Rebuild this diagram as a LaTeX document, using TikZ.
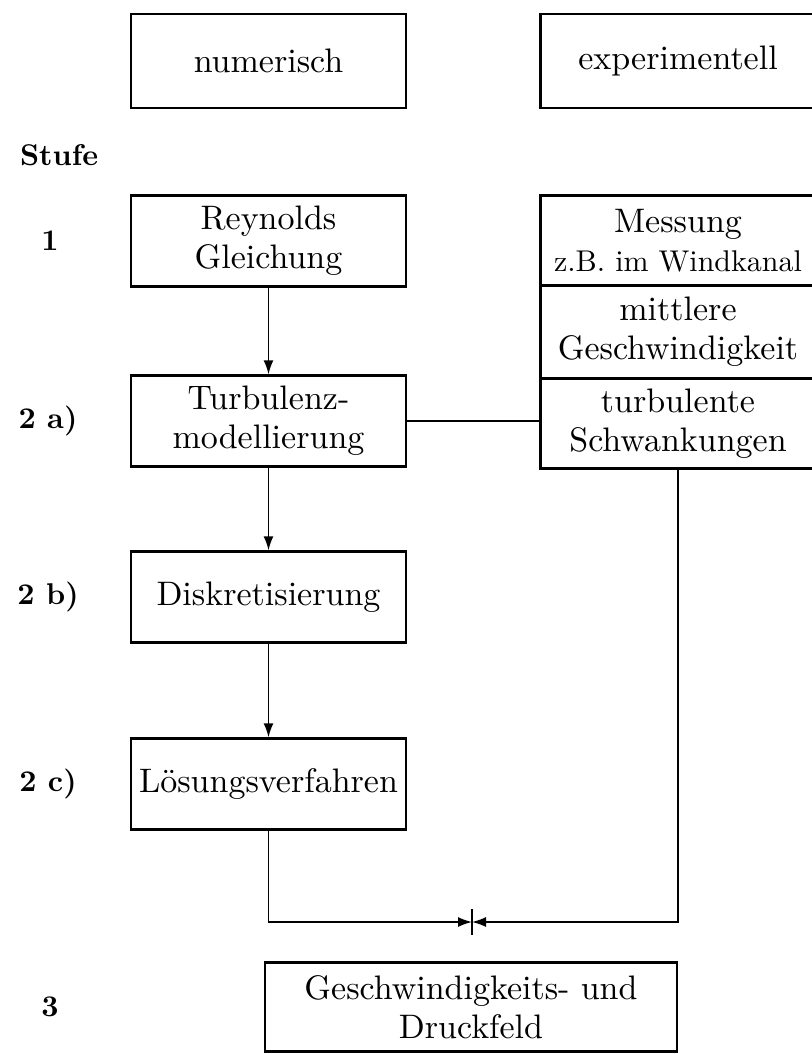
\documentclass[tikz,border=0pt]{standalone}
\usetikzlibrary{arrows.meta}
\font\kastenfont="[lmroman10-regular]:+tlig;" at 17pt
\font\kleinfont="[lmroman10-regular]:+tlig;" at 15pt
\font\stufenfont="[lmroman10-bold]:+tlig;" at 15pt
\newcommand{\kastenschrift}{\fontsize{17}{19.5}\selectfont\kastenfont}
\newcommand{\stufenschrift}{\fontsize{15}{18}\selectfont\stufenfont}
\tikzset{
	kasten/.style={draw, line width=1.2pt, minimum width=137.5pt, minimum height=45.5pt, inner sep=0pt, align=center, font=\kastenschrift},
	stufe/.style={font=\stufenschrift},
	linie/.style={line width=0.8pt},
	pfeil/.style={linie, -{Latex[length=7pt,width=5pt]}}
}

\begin{document}
\begin{tikzpicture}[x=0.5pt, y=-0.5pt]
		%%%%% START %%%%%
		\useasboundingbox (0,0) rectangle (812,1054);
		
		\node[kasten, minimum height=47pt] (num) at (268.5, 61) {numerisch};
		\node[kasten, minimum height=47pt] (exp) at (678, 61) {experimentell};
		
		\node[stufe, anchor=west] (stufe) at (13, 155) {Stufe};
		\node[stufe] (s1) at (50, 241) {1};
		\node[stufe] (s2a) at (48, 421) {2 a)};
		\node[stufe] (s2b) at (48, 597) {2 b)};
		\node[stufe] (s2c) at (48, 784) {2 c)};
		\node[stufe] (s3) at (50, 1007) {3};
		
		\node[kasten] (reyn) at (268.5, 241) {Reynolds\\Gleichung};
		\node[kasten] (turb) at (268.5, 421) {Turbulenz-\\modellierung};
		\node[kasten] (disk) at (268.5, 597) {Diskretisierung};
		\node[kasten] (loes) at (268.5, 784) {Lösungsverfahren};
		
		\node[kasten, minimum height=45pt] (mess) at (678, 240.5) {Messung\\{\kleinfont z.B. im Windkanal}};
		\node[kasten, minimum height=46pt] (mittel) at (678, 332) {mittlere\\Geschwindigkeit};
		\node[kasten, minimum height=45pt] (schwank) at (678, 423.5) {turbulente\\Schwankungen};
		
		\node[kasten, minimum width=206pt, minimum height=44.5pt] (feld) at (471, 1007) {Geschwindigkeits- und\\Druckfeld};
		
		\draw[pfeil] (reyn) -- (turb);
		\draw[pfeil] (turb) -- (disk);
		\draw[pfeil] (disk) -- (loes);
		\draw[linie] (turb.east) -- (turb.east -| schwank.west);
		
		\coordinate (treff) at (472, 922);
		\draw[pfeil] (loes) |- (treff);
		\draw[pfeil] (schwank.south) |- (treff);
		\draw[linie] (treff) ++(0,-13) -- ++(0,26);
		
		%%%%% END %%%%%
	\end{tikzpicture}
\end{document}
